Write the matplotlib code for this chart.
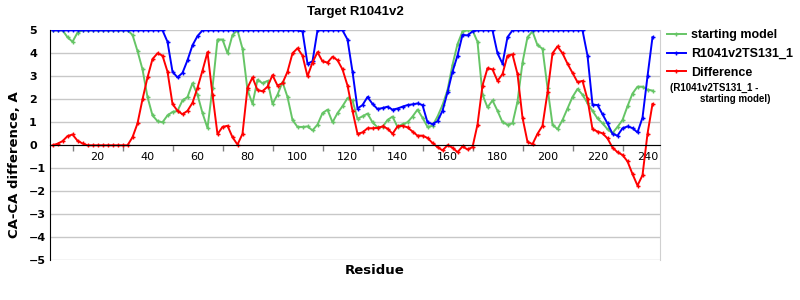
# Target R1041v2 - CA-CA difference per residue

import matplotlib
matplotlib.use('Agg')
import matplotlib.pyplot as plt
from matplotlib.ticker import FixedLocator

# residue numbers (every second residue)
residues = list(range(2, 244, 2))

# CA-CA difference of the starting model (capped at 5)
starting_model = [
    5.0, 5.0, 5.0, 4.7, 4.5, 4.9, 5.0, 5.0, 5.0, 5.0,
    5.0, 5.0, 5.0, 5.0, 5.0, 5.0, 4.8, 4.1, 3.3, 2.1,
    1.3, 1.05, 1.0, 1.3, 1.45, 1.5, 1.95, 2.1, 2.7, 2.2,
    1.4, 0.75, 2.5, 4.6, 4.6, 4.0, 4.8, 5.0, 4.2, 2.4,
    1.8, 2.85, 2.7, 2.8, 1.8, 2.2, 2.75, 2.1, 1.1, 0.8,
    0.8, 0.82, 0.65, 0.9, 1.4, 1.55, 1.0, 1.4, 1.7, 2.05,
    1.95, 1.15, 1.26, 1.38, 1.0, 0.78, 0.8, 1.1, 1.25, 0.8,
    0.92, 1.0, 1.25, 1.55, 1.2, 0.8, 0.85, 1.25, 1.75, 2.4,
    3.5, 4.4, 4.95, 5.0, 5.0, 4.5, 2.2, 1.65, 1.95, 1.5,
    1.0, 0.9, 0.95, 1.9, 3.6, 4.7, 4.95, 4.35, 4.2, 2.5,
    0.9, 0.7, 1.1, 1.6, 2.1, 2.45, 2.2, 1.83, 1.5, 1.17,
    0.96, 0.7, 0.53, 0.8, 1.1, 1.7, 2.25, 2.55, 2.55, 2.42,
    2.38,
]

# CA-CA difference of the submitted model R1041v2TS131_1
ts131 = [
    5.0, 5.0, 5.0, 5.0, 5.0, 5.0, 5.0, 5.0, 5.0, 5.0,
    5.0, 5.0, 5.0, 5.0, 5.0, 5.0, 5.0, 5.0, 5.0, 5.0,
    5.0, 5.0, 5.0, 4.5, 3.2, 2.95, 3.15, 3.7, 4.35, 4.75,
    5.0, 5.0, 5.0, 5.0, 5.0, 5.0, 5.0, 5.0, 5.0, 5.0,
    5.0, 5.0, 5.0, 5.0, 5.0, 5.0, 5.0, 5.0, 5.0, 5.0,
    4.95, 3.55, 3.65, 5.0, 5.0, 5.0, 5.0, 5.0, 5.0, 4.6,
    3.2, 1.6, 1.75, 2.1, 1.8, 1.58, 1.62, 1.68, 1.55, 1.6,
    1.68, 1.75, 1.78, 1.82, 1.75, 1.0, 0.92, 1.05, 1.5, 2.3,
    3.2, 3.9, 4.8, 4.78, 4.95, 5.0, 5.0, 5.0, 5.0, 4.0,
    3.55, 4.7, 5.0, 5.0, 5.0, 5.0, 5.0, 5.0, 5.0, 5.0,
    5.0, 5.0, 5.0, 5.0, 5.0, 5.0, 5.0, 3.9, 1.77, 1.75,
    1.35, 0.95, 0.5, 0.42, 0.74, 0.82, 0.75, 0.56, 1.2, 3.0,
    4.7,
]

# Difference (R1041v2TS131_1 - starting model)
difference = [
    0.0, 0.07, 0.18, 0.4, 0.47, 0.2, 0.08, 0.0, 0.0, 0.0,
    0.0, 0.0, 0.0, 0.0, 0.0, 0.0, 0.35, 0.95, 2.0, 2.95,
    3.75, 4.0, 3.9, 3.2, 1.8, 1.5, 1.35, 1.5, 1.85, 2.5,
    3.25, 4.05, 2.2, 0.48, 0.8, 0.85, 0.35, 0.03, 0.5, 2.5,
    2.95, 2.4, 2.35, 2.55, 3.05, 2.6, 2.7, 3.2, 4.0, 4.22,
    3.9, 3.0, 3.6, 4.05, 3.65, 3.6, 3.85, 3.7, 3.3, 2.6,
    1.5, 0.5, 0.56, 0.74, 0.74, 0.76, 0.82, 0.73, 0.5, 0.82,
    0.85, 0.78, 0.6, 0.42, 0.42, 0.32, 0.1, -0.08, -0.22, 0.0,
    -0.1, -0.3, -0.05, -0.18, -0.08, 0.9, 2.6, 3.35, 3.3, 2.8,
    3.1, 3.9, 3.95, 3.1, 1.2, 0.15, 0.05, 0.5, 0.85, 2.3,
    4.0, 4.3, 4.0, 3.55, 3.15, 2.75, 2.8, 2.0, 0.7, 0.6,
    0.52, 0.3, -0.1, -0.3, -0.42, -0.7, -1.25, -1.75, -1.3, 0.5,
    1.8,
]

x_labels = list(range(20, 260, 20))
x_minor = list(range(10, 240, 20))
y_ticks = list(range(-5, 6))

plt.rcParams['font.family'] = ['DejaVu Sans']

fig = plt.figure(figsize=(8, 3), dpi=100)
ax = fig.add_axes([50 / 800, 39.7 / 300, 610 / 800, 230 / 300])

# series
line_style = dict(linewidth=1.4, marker='+', markersize=2.5, markeredgewidth=1)
h1, = ax.plot(residues, starting_model, color='#66c566', label='starting model', **line_style)
h2, = ax.plot(residues, ts131, color='#0000ff', label='R1041v2TS131_1', **line_style)
h3, = ax.plot(residues, difference, color='#ff0000', label='Difference', **line_style)

# axes limits and ticks
ax.set_xlim(1, 245)
ax.set_ylim(-5, 5)
ax.set_yticks(y_ticks)
ax.yaxis.grid(True, color='#c8c8c8', linewidth=1)
ax.set_axisbelow(True)
ax.tick_params(axis='y', length=0, pad=15, labelsize=8)
for lbl in ax.get_yticklabels():
    lbl.set_horizontalalignment('left')
    lbl.set_fontweight('bold')

ax.xaxis.set_major_locator(FixedLocator(x_labels))
ax.xaxis.set_minor_locator(FixedLocator(x_minor))
ax.tick_params(axis='x', which='major', length=0, pad=5, labelsize=8)
ax.tick_params(axis='x', which='minor', length=4, width=1, color='#808080')
for lbl in ax.get_xticklabels():
    lbl.set_fontweight('bold')

# spines: x axis on the zero line
ax.spines['bottom'].set_position(('data', 0))
ax.spines['bottom'].set_color('black')
ax.spines['left'].set_color('black')
ax.spines['top'].set_visible(False)
ax.spines['right'].set_color('#d0d0d0')

# labels
fig.text(355 / 800, 1 - 12 / 300, 'Target R1041v2', ha='center', va='center',
         fontsize=9.5, fontweight='bold', family='Liberation Sans')
fig.text(375 / 800, 1 - 270 / 300, 'Residue', ha='center', va='center',
         fontsize=9.5, fontweight='bold')
fig.text(15 / 800, 1 - 165 / 300, 'CA-CA difference, A', ha='center', va='center',
         rotation=90, fontsize=9.5, fontweight='bold')

# legend outside the plot area
leg = ax.legend(handles=[h1, h2, h3], loc='upper left',
                bbox_to_anchor=(662 / 800, 1 - 24 / 300), bbox_transform=fig.transFigure,
                frameon=False, handlelength=1.5, handletextpad=0.45, labelspacing=0.55,
                borderpad=0.2, borderaxespad=0.2,
                prop={'family': 'Liberation Sans', 'weight': 'bold', 'size': 9})
fig.text(670 / 800, 1 - 88 / 300, '(R1041v2TS131_1 -', ha='left', va='center',
         fontsize=7, fontweight='bold', family='Liberation Sans')
fig.text(700 / 800, 1 - 99 / 300, 'starting model)', ha='left', va='center',
         fontsize=7, fontweight='bold', family='Liberation Sans')

fig.savefig('out.png', dpi=100)
